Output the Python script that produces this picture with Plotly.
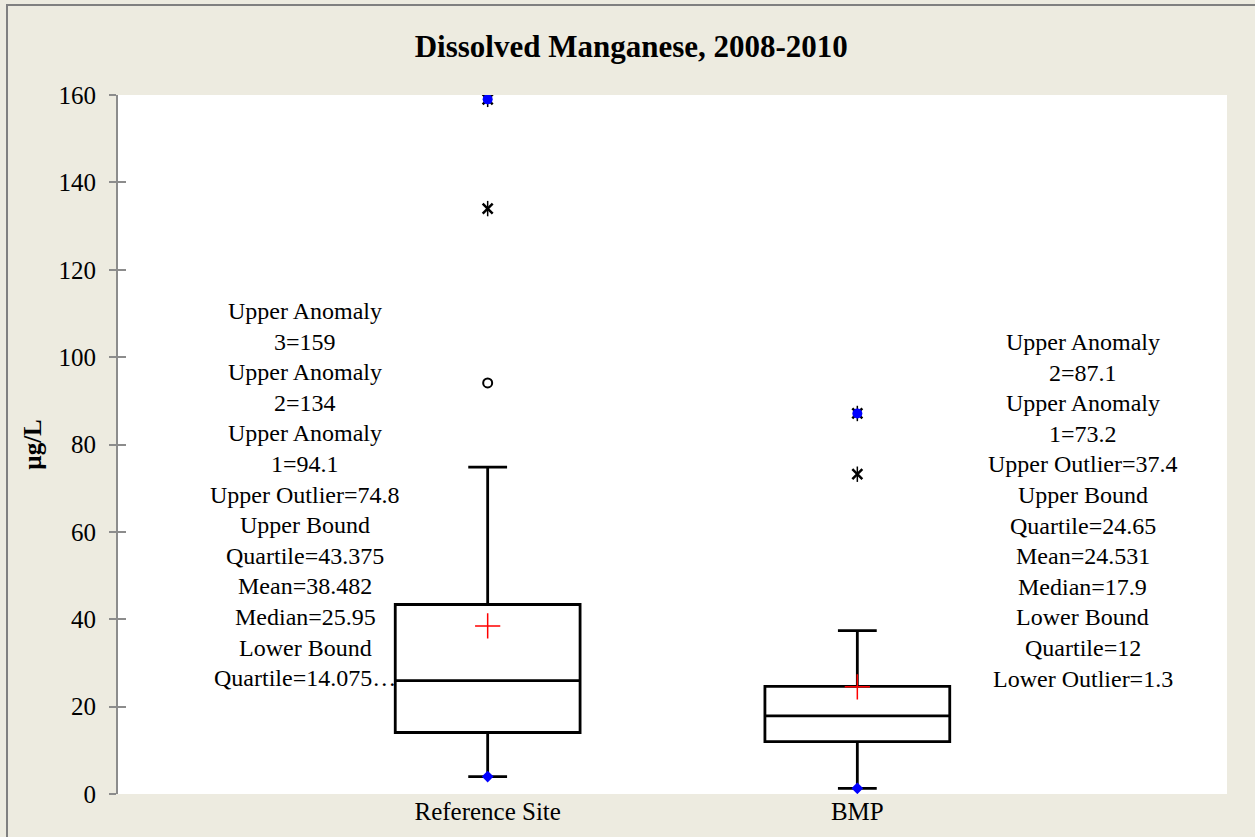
import plotly.graph_objects as go

# ---- data ----
categories = ["Reference Site", "BMP"]
cat_pos = [0, 1]
q1 = [14.075, 12.0]
median = [25.95, 17.9]
q3 = [43.375, 24.65]
lower_whisker = [4.0, 1.3]
upper_whisker = [74.8, 37.4]
means = [38.482, 24.531]
minimums = [4.0, 1.3]
maximums = [159.0, 87.1]
anomaly_x_pos = [0, 0, 1, 1]
anomaly_x_val = [134.0, 159.0, 73.2, 87.1]
circle_pos = [0]
circle_val = [94.1]
y_ticks = [0, 20, 40, 60, 80, 100, 120, 140, 160]

left_lines = ["Upper Anomaly", "3=159", "Upper Anomaly", "2=134", "Upper Anomaly",
              "1=94.1", "Upper Outlier=74.8", "Upper Bound", "Quartile=43.375",
              "Mean=38.482", "Median=25.95", "Lower Bound", "Quartile=14.075\u2026"]
right_lines = ["Upper Anomaly", "2=87.1", "Upper Anomaly", "1=73.2",
               "Upper Outlier=37.4", "Upper Bound", "Quartile=24.65", "Mean=24.531",
               "Median=17.9", "Lower Bound", "Quartile=12", "Lower Outlier=1.3"]

# ---- layout geometry ----
W, H = 1255, 837
ML, MR, MT, MB = 118, 28, 95, 43
PH = H - MT - MB
PW = W - ML - MR
FONT = "Liberation Serif, Times New Roman, serif"

fig = go.Figure()

fig.add_trace(go.Box(
    x=cat_pos, q1=q1, median=median, q3=q3,
    lowerfence=lower_whisker, upperfence=upper_whisker,
    width=0.5, whiskerwidth=0.21, fillcolor="white",
    line=dict(color="black", width=2.8), boxpoints=False,
    hoverinfo="skip", showlegend=False,
))

# anomalies (x with vertical stroke)
fig.add_trace(go.Scatter(
    x=anomaly_x_pos, y=anomaly_x_val, mode="markers", showlegend=False,
    marker=dict(symbol="x-thin", size=10, color="black", line=dict(color="black", width=2.5)),
))
fig.add_trace(go.Scatter(
    x=anomaly_x_pos, y=anomaly_x_val, mode="markers", showlegend=False,
    marker=dict(symbol="line-ns", size=11, color="black", line=dict(color="black", width=1.5)),
))
# open circle
fig.add_trace(go.Scatter(
    x=circle_pos, y=circle_val, mode="markers", showlegend=False,
    marker=dict(symbol="circle-open", size=9, color="black", line=dict(color="black", width=2)),
))
# mean
fig.add_trace(go.Scatter(
    x=cat_pos, y=means, mode="markers", showlegend=False,
    marker=dict(symbol="cross-thin", size=18, color="red", line=dict(color="red", width=1.5)),
))
# min / max
fig.add_trace(go.Scatter(
    x=cat_pos, y=minimums, mode="markers", showlegend=False,
    marker=dict(symbol="diamond", size=9, color="blue", line=dict(width=0)),
))
fig.add_trace(go.Scatter(
    x=cat_pos, y=maximums, mode="markers", showlegend=False,
    marker=dict(symbol="circle", size=10, color="blue", line=dict(width=0)),
))

# annotation text blocks, one annotation per line
LINE_STEP = 30.6
def add_block(lines, xdata, top_px):
    for i, t in enumerate(lines):
        ypix = top_px + i * LINE_STEP
        fig.add_annotation(
            x=xdata, xref="x", y=(H - MB - ypix) / PH, yref="paper",
            text=t, showarrow=False, xanchor="center", yanchor="middle",
            font=dict(family=FONT, size=24, color="black"),
        )

add_block(left_lines, -0.494, 311)
add_block(right_lines, 1.61, 342)

# outer border
fig.add_shape(type="rect", xref="paper", yref="paper",
              x0=(7 - ML) / PW, x1=(W + 20 - ML) / PW,
              y0=-(MB + 20) / PH, y1=(H - MB - 5) / PH,
              line=dict(color="#808080", width=2), fillcolor="rgba(0,0,0,0)", layer="above")

fig.update_layout(
    width=W, height=H,
    margin=dict(l=ML, r=MR, t=MT, b=MB, autoexpand=False),
    paper_bgcolor="#EDEBE0", plot_bgcolor="white",
    font=dict(family=FONT, size=24, color="black"),
    title=dict(text="<b>Dissolved Manganese, 2008-2010</b>", x=0.503, xanchor="center",
               y=1 - 46 / H, yanchor="middle",
               font=dict(family=FONT, size=31, color="black")),
    showlegend=False,
    xaxis=dict(range=[-1, 2], tickvals=cat_pos, ticktext=categories,
               showline=False, showgrid=False, zeroline=False, ticks="",
               tickfont=dict(size=25)),
    yaxis=dict(range=[0, 160], tickvals=y_ticks, showgrid=False, zeroline=False,
               showline=True, linecolor="#8c8c8c", linewidth=2,
               ticks="outside", ticklen=7, tickwidth=2, tickcolor="#8c8c8c",
               ticklabelstandoff=8,
               title=dict(text="<b>µg/L</b>", font=dict(size=25), standoff=10),
               tickfont=dict(size=25)),
    yaxis2=dict(range=[0, 160], tickvals=y_ticks, overlaying="y", side="left",
                showgrid=False, zeroline=False, showline=False, showticklabels=False,
                ticks="inside", ticklen=8, tickwidth=2, tickcolor="#8c8c8c"),
)
# a dummy invisible trace so yaxis2 is drawn
fig.add_trace(go.Scatter(x=[None], y=[None], yaxis="y2", showlegend=False, hoverinfo="skip"))

fig.write_html(
    "out.html",
    config={"displayModeBar": False},
    post_script="document.body.style.margin='0';document.body.style.overflow='hidden';"
                "document.documentElement.style.overflow='hidden';",
)
